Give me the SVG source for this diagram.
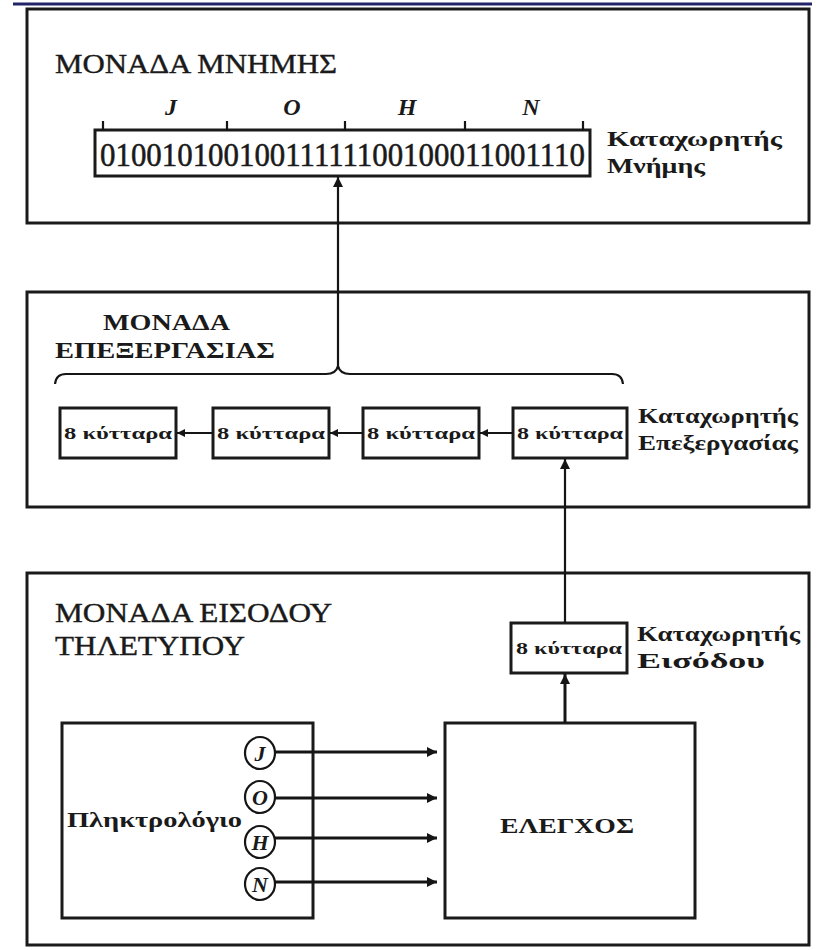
<svg xmlns="http://www.w3.org/2000/svg" width="825" height="950" viewBox="0 0 825 950">
<defs>
<marker id="ah" viewBox="0 0 10 10" refX="10" refY="5" markerWidth="12" markerHeight="10" markerUnits="userSpaceOnUse" orient="auto">
<path d="M0,0 L10,5 L0,10 Z" fill="#151515"/>
</marker>
<marker id="ahs" viewBox="0 0 10 10" refX="10" refY="5" markerWidth="9" markerHeight="8" markerUnits="userSpaceOnUse" orient="auto">
<path d="M0,0 L10,5 L0,10 Z" fill="#151515"/>
</marker>
</defs>
<style>
.unit{fill:#fff;stroke:#1a1a1a;stroke-width:3}
.box{fill:#fff;stroke:#1a1a1a;stroke-width:3}
.t{font-family:"Liberation Serif","DejaVu Serif",serif;fill:#1a1a1a}
.h{font-size:27px;stroke:#1a1a1a;stroke-width:0.4}
.hb{font-size:24px;font-weight:bold}
.lab{font-size:21px;font-weight:bold}
.cell{font-size:17px;font-weight:bold;text-anchor:middle}
.ltr{font-size:24px;font-weight:bold;font-style:italic;text-anchor:middle}
.cl{font-size:22px;font-weight:bold;font-style:italic;text-anchor:middle}
.bits{font-size:30px;stroke:#1a1a1a;stroke-width:0.5}
.ln{stroke:#151515;stroke-width:2.2;fill:none}
.lnb{stroke:#151515;stroke-width:3;fill:none}
</style>
<rect width="825" height="950" fill="#fff"/>
<line x1="13" y1="4" x2="812" y2="4" stroke="#23236a" stroke-width="3"/>

<g id="memory-unit">
<rect class="unit" x="27" y="9" width="782" height="214"/>
<text class="t h" x="55" y="73" textLength="282" lengthAdjust="spacingAndGlyphs">ΜΟΝΑΔΑ ΜΝΗΜΗΣ</text>
<text class="t ltr" x="171" y="115">J</text>
<text class="t ltr" x="292" y="115">O</text>
<text class="t ltr" x="407" y="115">H</text>
<text class="t ltr" x="531" y="115">N</text>
</g>

<g id="memory-register">
<rect class="box" x="95" y="130" width="495" height="46"/>
<path class="ln" d="M103,121 V131 M227,121 V131 M345,121 V131 M465,121 V131 M583,121 V131"/>
<text class="t bits" transform="translate(100,166) scale(1,1.12)" x="0" y="0" textLength="485" lengthAdjust="spacingAndGlyphs">01001010010011111100100011001110</text>
<text class="t lab" x="607" y="146" textLength="175" lengthAdjust="spacingAndGlyphs">Καταχωρητής</text>
<text class="t lab" x="607" y="173" textLength="98" lengthAdjust="spacingAndGlyphs">Μνήμης</text>
</g>

<g id="processing-unit">
<rect class="unit" x="27" y="292" width="782" height="215"/>
<text class="t hb" x="103" y="330" textLength="127" lengthAdjust="spacingAndGlyphs">ΜΟΝΑΔΑ</text>
<text class="t hb" x="55" y="358" textLength="220" lengthAdjust="spacingAndGlyphs">ΕΠΕΞΕΡΓΑΣΙΑΣ</text>
<path class="ln" d="M55,384 Q56,374 66,374 L326,374 Q336,374 338,366 Q340,374 350,374 L612,374 Q622,374 623,384"/>
</g>

<g id="proc-cell-1">
<rect class="box" x="60" y="408" width="116" height="50"/>
<text class="t cell" x="118" y="439" textLength="108" lengthAdjust="spacingAndGlyphs">8 κύτταρα</text>
</g>
<g id="proc-cell-2">
<rect class="box" x="213" y="408" width="116" height="50"/>
<text class="t cell" x="271" y="439" textLength="108" lengthAdjust="spacingAndGlyphs">8 κύτταρα</text>
</g>
<g id="proc-cell-3">
<rect class="box" x="363" y="408" width="116" height="50"/>
<text class="t cell" x="421" y="439" textLength="108" lengthAdjust="spacingAndGlyphs">8 κύτταρα</text>
</g>
<g id="proc-cell-4">
<rect class="box" x="513" y="408" width="114" height="50"/>
<text class="t cell" x="570" y="439" textLength="106" lengthAdjust="spacingAndGlyphs">8 κύτταρα</text>
<text class="t lab" x="638" y="423" textLength="160" lengthAdjust="spacingAndGlyphs">Καταχωρητής</text>
<text class="t lab" x="638" y="450" textLength="160" lengthAdjust="spacingAndGlyphs">Επεξεργασίας</text>
</g>

<g id="input-unit">
<rect class="unit" x="27" y="573" width="782" height="372"/>
<text class="t h" x="55" y="622" textLength="277" lengthAdjust="spacingAndGlyphs">ΜΟΝΑΔΑ ΕΙΣΟΔΟΥ</text>
<text class="t h" x="55" y="655" textLength="190" lengthAdjust="spacingAndGlyphs">ΤΗΛΕΤΥΠΟΥ</text>
</g>

<g id="input-register">
<rect class="box" x="511" y="623" width="116" height="50"/>
<text class="t cell" x="569" y="654" textLength="106" lengthAdjust="spacingAndGlyphs">8 κύτταρα</text>
<text class="t lab" x="637" y="641" textLength="163" lengthAdjust="spacingAndGlyphs">Καταχωρητής</text>
<text class="t lab" x="637" y="668" textLength="128" lengthAdjust="spacingAndGlyphs">Εισόδου</text>
</g>

<g id="keyboard">
<rect class="box" x="62" y="723" width="251" height="195"/>
<text class="t lab" x="67" y="827" textLength="175" lengthAdjust="spacingAndGlyphs">Πληκτρολόγιο</text>
<ellipse class="ln" cx="260" cy="753" rx="15" ry="16"/>
<text class="t cl" x="260" y="761">J</text>
<ellipse class="ln" cx="260" cy="797" rx="15" ry="16"/>
<text class="t cl" x="260" y="805">O</text>
<ellipse class="ln" cx="260" cy="842" rx="15" ry="16"/>
<text class="t cl" x="260" y="850">H</text>
<ellipse class="ln" cx="260" cy="884" rx="15" ry="16"/>
<text class="t cl" x="260" y="892">N</text>
</g>

<g id="control">
<rect class="box" x="445" y="723" width="250" height="195"/>
<text class="t lab" x="500" y="833" textLength="134" lengthAdjust="spacingAndGlyphs">ΕΛΕΓΧΟΣ</text>
</g>

<g id="connectors">
<line class="ln" x1="338" y1="366" x2="338" y2="177" marker-end="url(#ah)"/>
<line class="ln" x1="565" y1="623" x2="565" y2="459" marker-end="url(#ah)"/>
<line class="lnb" x1="565" y1="723" x2="565" y2="674" marker-end="url(#ah)"/>
<line class="ln" x1="513" y1="433" x2="480" y2="433" marker-end="url(#ahs)"/>
<line class="ln" x1="363" y1="433" x2="330" y2="433" marker-end="url(#ahs)"/>
<line class="ln" x1="213" y1="433" x2="177" y2="433" marker-end="url(#ahs)"/>
<line class="lnb" x1="275" y1="752" x2="437" y2="752" marker-end="url(#ah)"/>
<line class="lnb" x1="275" y1="798" x2="437" y2="798" marker-end="url(#ah)"/>
<line class="lnb" x1="275" y1="838" x2="437" y2="838" marker-end="url(#ah)"/>
<line class="lnb" x1="275" y1="882" x2="437" y2="882" marker-end="url(#ah)"/>
</g>
</svg>
